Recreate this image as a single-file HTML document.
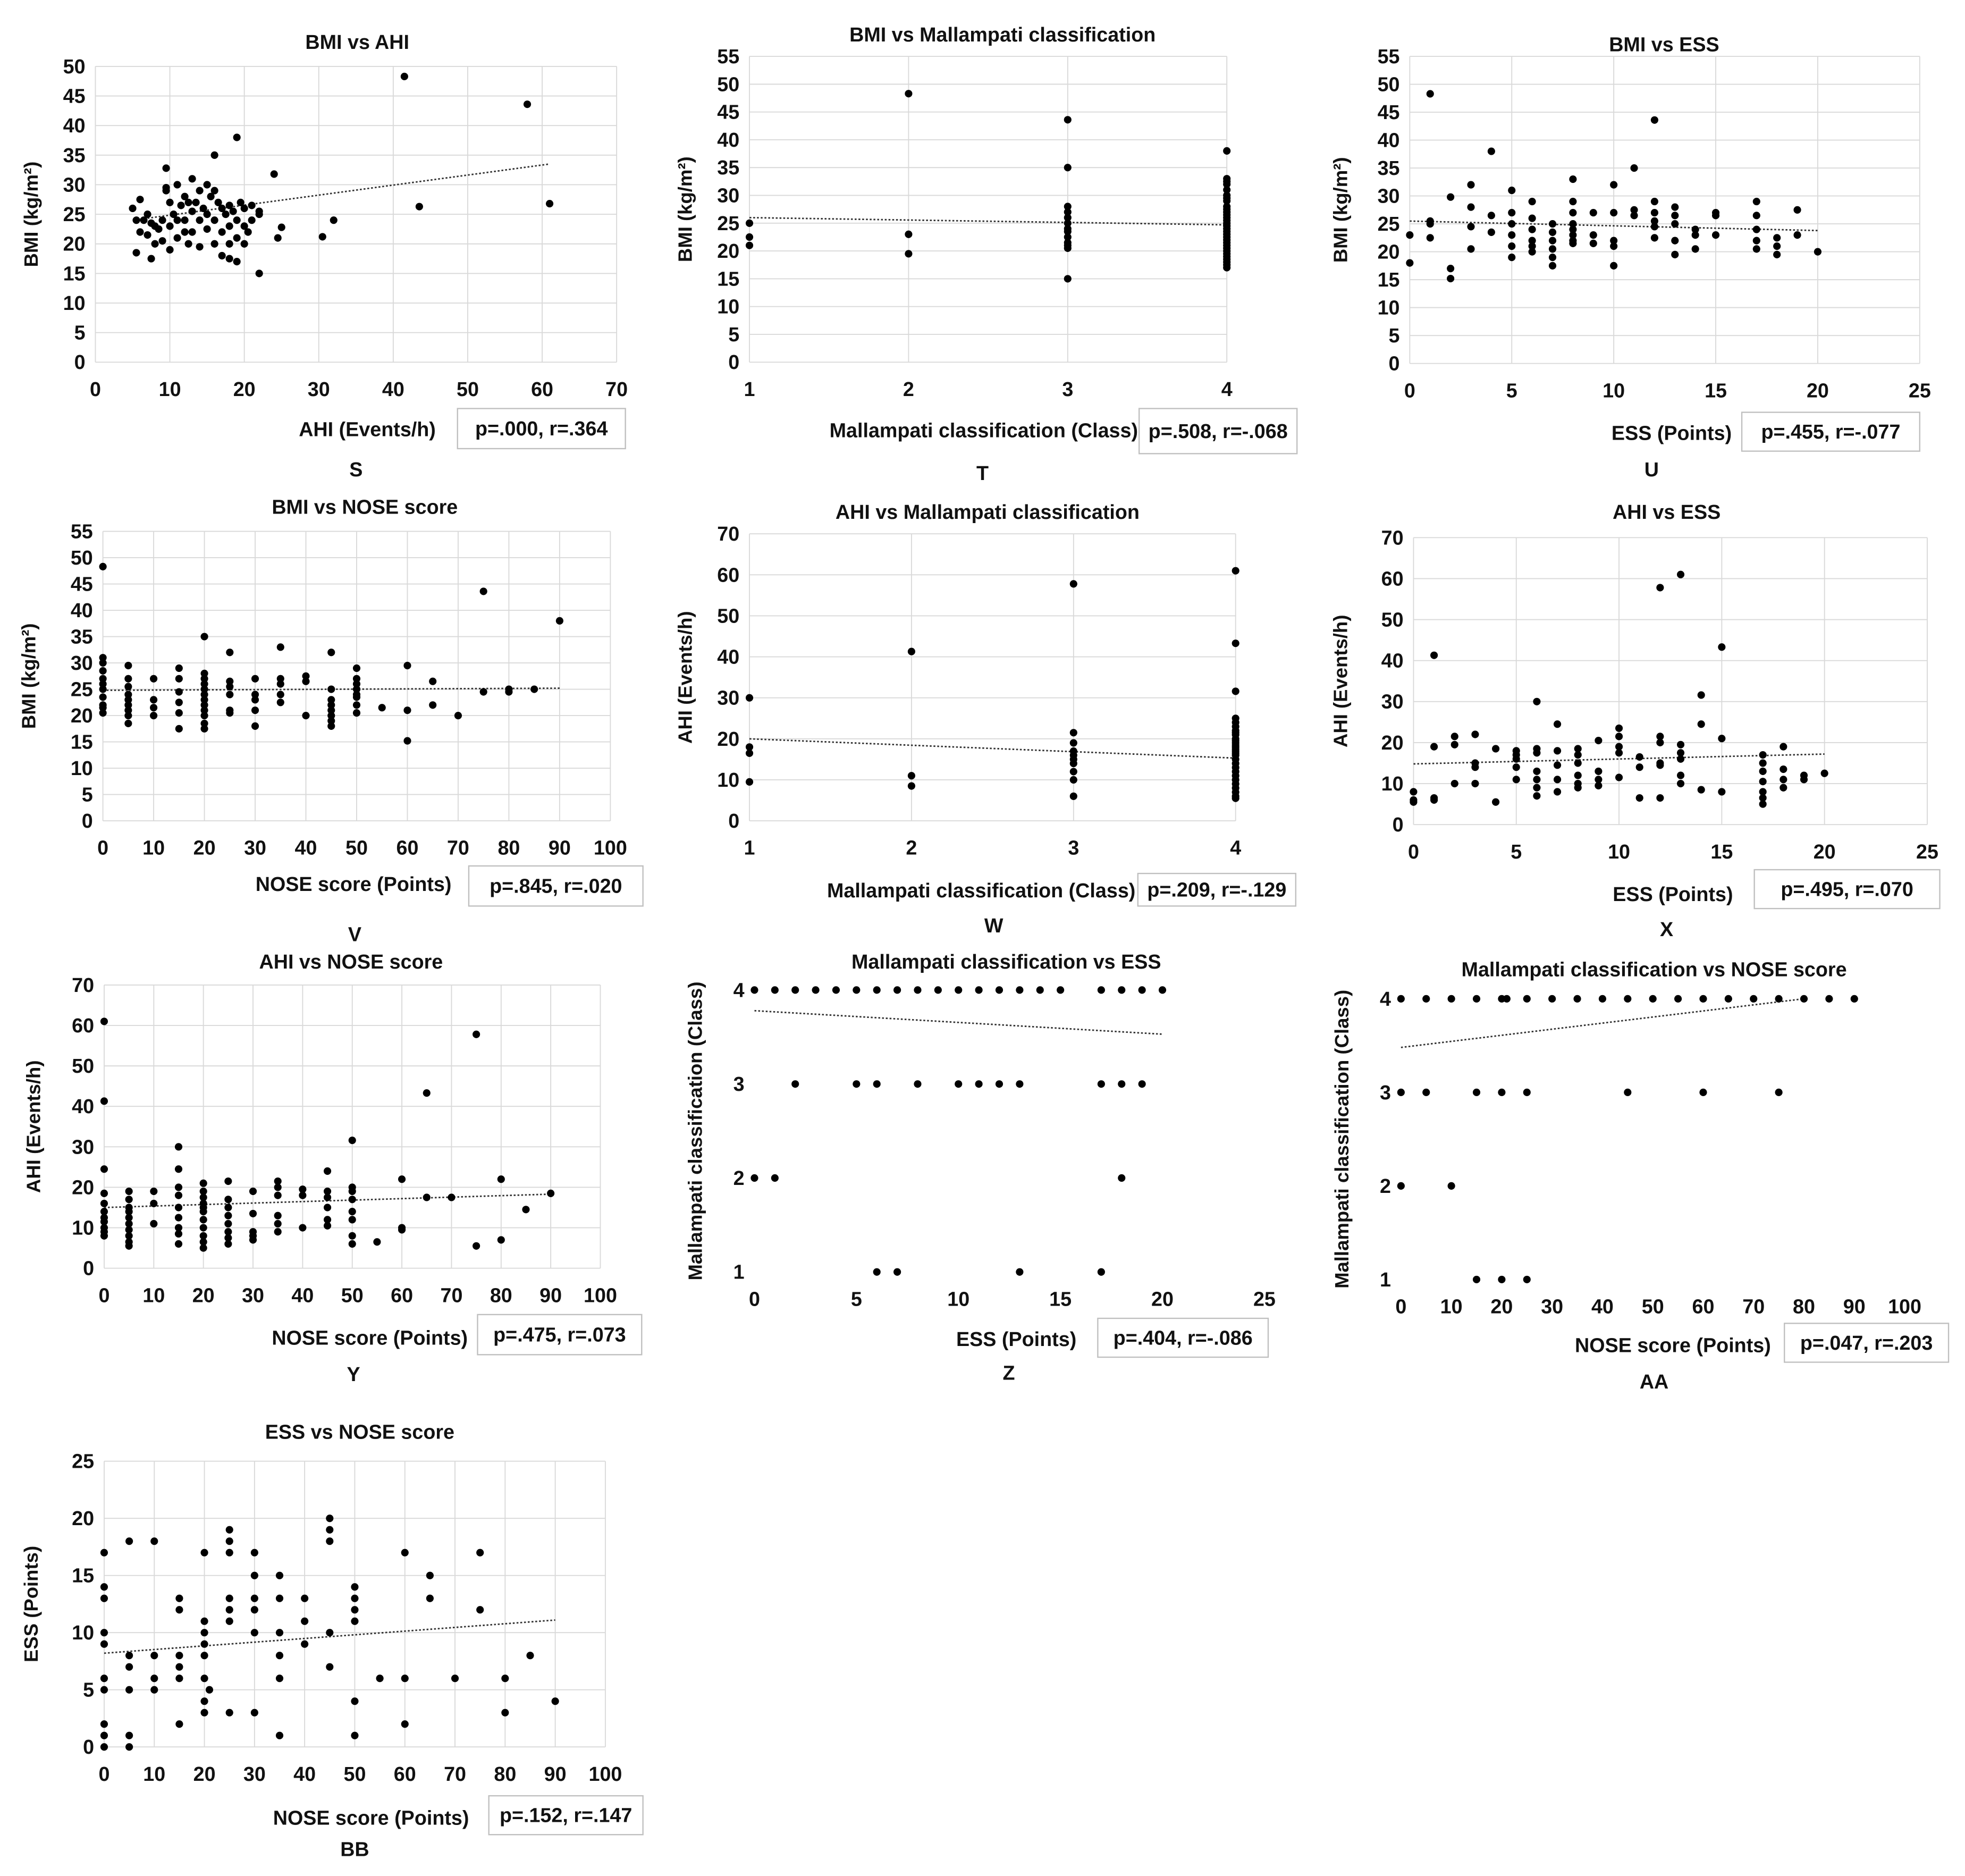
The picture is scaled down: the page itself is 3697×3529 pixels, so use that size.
<!DOCTYPE html>
<html><head><meta charset="utf-8">
<style>
html,body{margin:0;padding:0;background:#fff;}
svg{display:block;font-family:"Liberation Sans",Arial,sans-serif;}
</style></head>
<body>
<svg id="fig" width="3697" height="3529" viewBox="0 0 1568 1497" xmlns="http://www.w3.org/2000/svg"></svg>
<script>
// ---------- DATA ----------
const sAHI=[5,5.5,6,6,6.5,7,7,7.5,8,8,8.5,9,9,9.5,9.5,10,10,10,10.5,11,11,11,11.5,12,12,12,12.5,13,13,13,13.5,14,14,14,14.5,15,15,15,15.5,16,16,16,16.5,17,17,17,17.5,18,18,18,18.5,19,19,19,19.5,20,20,20,21,21,22,22,9.5,16,19,22,24,24.5,25,30.5,32,41.5,43.5,58,61,5.5,7.5,12.5,18,20.5];
const sBMI=[26,24,27.5,22,24,25,21.5,17.5,23,20,22.5,24,20.5,29,32.8,27,23,19,25,30,24,21,26.5,22,28,24,20,31,25.5,22,27,29,24,19.5,26,30,25,22.5,28,29,24,20,27,26,22,18,25,26.5,23,17.5,25.5,24,21,17,27,26,23,20,26.5,24,25,15,29.5,35,38,25.5,31.8,21,22.8,21.2,24,48.3,26.3,43.6,26.8,18.5,23.5,27,20,22];
const sTrendX=[5,61], sTrendY=[24,33.5];

const tClass=[1,2,3,4];
const tBMI=[[25,22.5,21],[48.3,23,19.5],[43.6,35,28,27,26,25,24,23.5,22.5,21.5,21,20.5,15],[38,33,32.5,32,31,30,29.5,29,28,27.5,27,26.5,26,25.5,25,24.5,24,23.5,23,22.5,22,21.5,21,20.5,20,19.5,19,18.5,18,17.5,17]];
const tTrendX=[1,4], tTrendY=[26,24.7];

const uESS=[0,1,2,3,4,5,6,7,8,9,10,11,12,13,14,15,17,18,19,20];
const uBMI=[[23,18],[48.3,25.5,25,22.5],[29.8,17,15.2],[32,28,24.5,20.5],[38,26.5,23.5],[31,27,25,23,21,19],[29,26,24,22,21,20],[25,23.5,22,20.5,19,17.5],[33,29,27,25,24,23,22,21.5],[27,23,21.5],[32,27,22,21,17.5],[35,27.5,26.5],[43.6,29,27,25.5,24.5,22.5],[28,26.5,25,22,19.5],[24,23,20.5],[27,26.5,23],[29,26.5,24,22,20.5],[22.5,21,19.5],[27.5,23],[20]];
const uTrendX=[0,20], uTrendY=[25.5,23.8];

const vNOSE=[0,5,10,15,20,25,30,35,40,45,50,55,60,65,70,75,80,85,90];
const vBMI=[[48.3,31,30,28.5,27,26,25,23.5,22,21.5,20.5],[29.5,27,25.5,24,23,22,21,20,18.5],[27,23,21.5,20],[29,27,24.5,22.5,20.5,17.5],[35,28,27,26,25,24,23,22,21,20,18.5,17.5],[32,26.5,25.5,24,21,20.5],[27,24,23,21,18],[33,27,26,24,22.5],[27.5,26.5,20],[32,25,23,22,21,20,19,18],[29,27,26,25,24,23.5,22,20.5],[21.5],[29.5,21,15.2],[26.5,22],[20],[43.6,24.5],[25,24.5],[25],[38]];
const vTrendX=[0,90], vTrendY=[24.8,25.2];

const wClass=[1,2,3,4];
const wAHI=[[30,18,16.5,9.5],[41.3,11,8.5],[57.8,21.5,19,17,16,15,14,12,10,6],[61,43.3,31.6,25,24,23,22,21.5,21,20,19.5,19,18.5,18,17.5,17,16.5,16,15,14,13,12,11,10,9,8,7,6,5.5]];
const wTrendX=[1,4], wTrendY=[20,15.3];

const xESS=[0,1,2,3,4,5,6,7,8,9,10,11,12,13,14,15,17,18,19,20];
const xAHI=[[8,6,5.5],[41.3,19,6.5,6],[21.5,19.5,10],[22,15,14,10],[18.5,5.5],[18,17,16,14,11],[30,18.5,17.5,13,11,9,7],[24.5,18,14.5,11,8],[18.5,17,15,12,10,9],[20.5,13,11,9.5],[23.5,21.5,19,17.5,11.5],[16.5,14,6.5],[57.8,21.5,20,15,14.5,6.5],[61,19.5,17.5,16,12,10],[31.6,24.5,8.5],[43.3,21,8],[17,15,13,10.5,8,6.5,5],[19,13.5,11,9],[12,11],[12.5]];
const xTrendX=[0,20], xTrendY=[14.8,17.2];

const yNOSE=[0,5,10,15,20,25,30,35,40,45,50,55,60,65,70,75,80,85,90];
const yAHI=[[61,41.3,24.5,18.5,16,14,12.5,11.5,10,9,8],[19,17,15,14,12.5,11,9.5,8,6.5,5.5],[19,16,11],[30,24.5,20,18,15,12.5,10,8.5,6],[21,19,17.5,16,15,14,12,10,8,6.5,5],[21.5,17,15,13,11,9,7.5,6],[19,13.5,9,8,7],[21.5,20,18,13,11,9],[19.5,18,10],[24,19,17.5,15,12,10.5],[31.6,20,19,17,14,12,8,6],[6.5],[22,10,9.5],[43.3,17.5],[17.5],[57.8,5.5],[22,7],[14.5],[18.5]];
const yTrendX=[0,90], yTrendY=[15,18.3];

const zESS=[0,1,2,3,4,5,6,7,8,9,10,11,12,13,14,15,17,18,19,20];
const zClass=[[4,2],[4,2],[4,3],[4],[4],[4,3],[4,3,1],[4,1],[4,3],[4],[4,3],[4,3],[4,3],[4,3,1],[4],[4],[4,3,1],[4,3,2],[4,3],[4]];
const zTrendX=[0,20], zTrendY=[3.78,3.53];

const aaNOSE=[0,5,10,15,20,21,25,30,35,40,45,50,55,60,65,70,75,80,85,90];
const aaClass=[[4,3,2],[4,3],[4,2],[4,3,1],[4,3,1],[4],[4,3,1],[4],[4],[4],[4,3],[4],[4],[4,3],[4],[4],[4,3],[4],[4],[4]];
const aaTrendX=[0,80], aaTrendY=[3.48,4.0];

const bbNOSE=[0,5,10,15,20,21,25,30,35,40,45,50,55,60,65,70,75,80,85,90];
const bbESS=[[17,14,13,10,9,6,5,2,1,0],[18,8,7,5,1,0],[18,8,6,5],[13,12,8,7,6,2],[17,11,10,9,8,6,4,3],[5],[19,18,17,13,12,11,3],[17,15,13,12,10,3],[15,13,10,8,6,1],[13,11,9],[20,19,18,10,7],[14,13,12,11,4,1],[6],[17,6,2],[15,13],[6],[17,12],[6,3],[8],[4]];
const bbTrendX=[0,90], bbTrendY=[8.2,11.1];

// ---------- RENDER ----------
const NS="http://www.w3.org/2000/svg";
const svg=document.getElementById('fig');
function mk(tag,attrs,parent,text){const e=document.createElementNS(NS,tag);for(const k in attrs)e.setAttribute(k,attrs[k]);if(text!==undefined)e.textContent=text;(parent||svg).appendChild(e);return e;}
function flat(xs,groups){const X=[],Y=[];xs.forEach((x,i)=>(groups[i]||[]).forEach(v=>{X.push(x);Y.push(v);}));return [X,Y];}

const panels=[
 {id:'s',X:sAHI,Y:sBMI,tx:sTrendX,ty:sTrendY,L:76,R:492,T:53,B:289,xmin:0,xmax:70,xs:10,ymin:0,ymax:50,ys:5,title:'BMI vs AHI',tcx:285,tcy:39,yl:'BMI (kg/m²)',ylx:30,xl:'AHI (Events/h)',xlx:293,xly:348,box:[365,326,134,32],stat:'p=.000, r=.364',let:'S',lx:284,ly:380},
 {id:'t',G:[tClass,tBMI],tx:tTrendX,ty:tTrendY,L:598,R:979,T:45,B:289,xmin:1,xmax:4,xs:1,ymin:0,ymax:55,ys:5,title:'BMI vs Mallampati classification',tcx:800,tcy:33,yl:'BMI (kg/m²)',ylx:552,xl:'Mallampati classification (Class)',xlx:785,xly:349,box:[909,326,126,36],stat:'p=.508, r=-.068',let:'T',lx:784,ly:383},
 {id:'u',G:[uESS,uBMI],tx:uTrendX,ty:uTrendY,L:1125,R:1532,T:45,B:290,xmin:0,xmax:25,xs:5,ymin:0,ymax:55,ys:5,title:'BMI vs ESS',tcx:1328,tcy:41,yl:'BMI (kg/m²)',ylx:1075,xl:'ESS (Points)',xlx:1334,xly:351,box:[1390,329,142,31],stat:'p=.455, r=-.077',let:'U',lx:1318,ly:380},
 {id:'v',G:[vNOSE,vBMI],tx:vTrendX,ty:vTrendY,L:82,R:487,T:424,B:655,xmin:0,xmax:100,xs:10,ymin:0,ymax:55,ys:5,title:'BMI vs NOSE score',tcx:291,tcy:410,yl:'BMI (kg/m²)',ylx:28,xl:'NOSE score (Points)',xlx:282,xly:711,box:[374,691,139,32],stat:'p=.845, r=.020',let:'V',lx:283,ly:751},
 {id:'w',G:[wClass,wAHI],tx:wTrendX,ty:wTrendY,L:598,R:986,T:426,B:655,xmin:1,xmax:4,xs:1,ymin:0,ymax:70,ys:10,title:'AHI vs Mallampati classification',tcx:788,tcy:414,yl:'AHI (Events/h)',ylx:552,xl:'Mallampati classification (Class)',xlx:783,xly:716,box:[908,697,126,26],stat:'p=.209, r=-.129',let:'W',lx:793,ly:744},
 {id:'x',G:[xESS,xAHI],tx:xTrendX,ty:xTrendY,L:1128,R:1538,T:429,B:658,xmin:0,xmax:25,xs:5,ymin:0,ymax:70,ys:10,title:'AHI vs ESS',tcx:1330,tcy:414,yl:'AHI (Events/h)',ylx:1075,xl:'ESS (Points)',xlx:1335,xly:719,box:[1400,694,148,31],stat:'p=.495, r=.070',let:'X',lx:1330,ly:747},
 {id:'y',G:[yNOSE,yAHI],tx:yTrendX,ty:yTrendY,L:83,R:479,T:786,B:1012,xmin:0,xmax:100,xs:10,ymin:0,ymax:70,ys:10,title:'AHI vs NOSE score',tcx:280,tcy:773,yl:'AHI (Events/h)',ylx:32,xl:'NOSE score (Points)',xlx:295,xly:1073,box:[381,1049,131,32],stat:'p=.475, r=.073',let:'Y',lx:282,ly:1102},
 {id:'z',G:[zESS,zClass],tx:zTrendX,ty:zTrendY,L:602,R:1009,T:790,B:1015,xmin:0,xmax:25,xs:5,ymin:1,ymax:4,ys:1,noGrid:true,title:'Mallampati classification vs ESS',tcx:803,tcy:773,yl:'Mallampati classification (Class)',ylx:560,xl:'ESS (Points)',xlx:811,xly:1074,box:[876,1052,136,31],stat:'p=.404, r=-.086',let:'Z',lx:805,ly:1101},
 {id:'aa',G:[aaNOSE,aaClass],tx:aaTrendX,ty:aaTrendY,L:1118,R:1520,T:797,B:1021,xmin:0,xmax:100,xs:10,ymin:1,ymax:4,ys:1,noGrid:true,title:'Mallampati classification vs NOSE score',tcx:1320,tcy:779,yl:'Mallampati classification (Class)',ylx:1076,xl:'NOSE score (Points)',xlx:1335,xly:1079,box:[1424,1056,131,31],stat:'p=.047, r=.203',let:'AA',lx:1320,ly:1108},
 {id:'bb',G:[bbNOSE,bbESS],tx:bbTrendX,ty:bbTrendY,L:83,R:483,T:1166,B:1394,xmin:0,xmax:100,xs:10,ymin:0,ymax:25,ys:5,title:'ESS vs NOSE score',tcx:287,tcy:1148,yl:'ESS (Points)',ylx:30,xl:'NOSE score (Points)',xlx:296,xly:1456,box:[390,1433,123,31],stat:'p=.152, r=.147',let:'BB',lx:283,ly:1481}
];

panels.forEach(p=>{
  const g=mk('g',{});
  
  
  const sx=v=>p.L+(v-p.xmin)/(p.xmax-p.xmin)*(p.R-p.L);
  const sy=v=>p.B-(v-p.ymin)/(p.ymax-p.ymin)*(p.B-p.T);
  if(!p.noGrid){
    for(let v=p.xmin;v<=p.xmax+1e-9;v+=p.xs){const l=mk('line',{x1:sx(v),x2:sx(v),y1:p.T,y2:p.B,stroke:'#d9d9d9','stroke-width':0.8},g);}
    for(let v=p.ymin;v<=p.ymax+1e-9;v+=p.ys){const l=mk('line',{x1:p.L,x2:p.R,y1:sy(v),y2:sy(v),stroke:'#d9d9d9','stroke-width':0.8},g);}
  }
  for(let v=p.xmin;v<=p.xmax+1e-9;v+=p.xs){const t=mk('text',{x:sx(v),y:p.B+27,'text-anchor':'middle','font-size':16,'font-weight':'bold',fill:'#111'},g,String(Math.round(v)));}
  for(let v=p.ymin;v<=p.ymax+1e-9;v+=p.ys){const t=mk('text',{x:p.L-8,y:sy(v)+5.5,'text-anchor':'end','font-size':16,'font-weight':'bold',fill:'#111'},g,String(Math.round(v)));}
  const ti=mk('text',{x:p.tcx,y:p.tcy,'text-anchor':'middle','font-size':16,'font-weight':'bold',fill:'#111'},g,p.title);
  
  const cy=(p.T+p.B)/2;
  const yt=mk('text',{x:p.ylx,y:cy,'text-anchor':'middle','font-size':15.5,'font-weight':'bold',fill:'#111',transform:`rotate(-90 ${p.ylx} ${cy})`},g,p.yl);
  
  const xt=mk('text',{x:p.xlx,y:p.xly,'text-anchor':'middle','font-size':16,'font-weight':'bold',fill:'#111'},g,p.xl);
  
  const bx=mk('rect',{x:p.box[0],y:p.box[1],width:p.box[2],height:p.box[3],fill:'#fff',stroke:'#bfbfbf','stroke-width':1},g);
  
  const st=mk('text',{x:p.box[0]+p.box[2]/2,y:p.box[1]+p.box[3]/2+5.5,'text-anchor':'middle','font-size':16,'font-weight':'bold',fill:'#111'},g,p.stat);
  
  const le=mk('text',{x:p.lx,y:p.ly,'text-anchor':'middle','font-size':16,'font-weight':'bold',fill:'#111'},g,p.let);
  
  const tr=mk('line',{x1:sx(p.tx[0]),y1:sy(p.ty[0]),x2:sx(p.tx[1]),y2:sy(p.ty[1]),stroke:'#333','stroke-width':1.2,'stroke-dasharray':'1.5,1.5'},g);
  
  let X,Y;
  if(p.G){[X,Y]=flat(p.G[0],p.G[1]);}else{X=p.X;Y=p.Y;}
  const n=Math.min(X.length,Y.length);
  for(let i=0;i<n;i++){
    const c=mk('circle',{cx:sx(X[i]),cy:sy(Y[i]),r:3,fill:'#000'},g);
    
    
  }
});
</script>
</body></html>
